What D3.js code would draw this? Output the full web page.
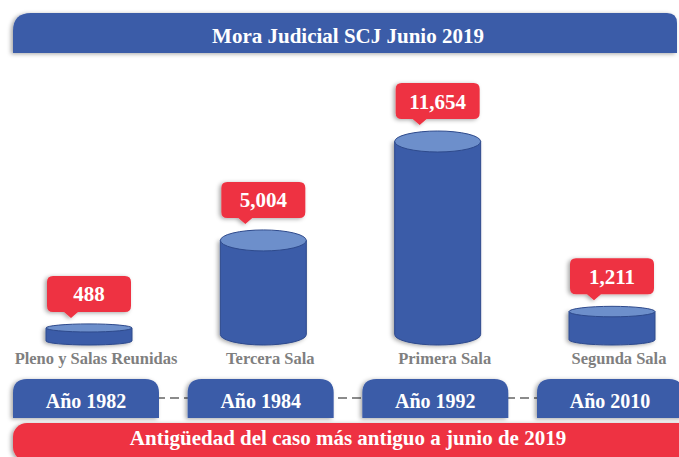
<!DOCTYPE html>
<html>
<head>
<meta charset="utf-8">
<script src="https://cdn.jsdelivr.net/npm/d3@7"></script>
<style>
  body { margin: 0; background: #fff; }
  svg { display: block; font-family: "Liberation Serif", "Times New Roman", serif; font-weight: bold; }
</style>
</head>
<body>
<div id="chart"></div>
<script>
var width = 679,
    height = 457

// data
var categories = ["Pleno y Salas Reunidas", "Tercera Sala", "Primera Sala", "Segunda Sala"]
var casos = [488, 5004, 11654, 1211]
var years = ["Año 1982", "Año 1984", "Año 1992", "Año 2010"]
var title = "Mora Judicial SCJ Junio 2019"
var footer = "Antigüedad del caso más antiguo a junio de 2019"

var blue = "#3a5ba8",
    red = "#ee3342"

var svg = d3.select("#chart")
  .append("svg")
    .attr("width", width)
    .attr("height", height)

// soft shadow
var defs = svg.append("defs")
defs.append("filter").attr("id", "shadow")
    .attr("x", "-20%").attr("y", "-30%").attr("width", "140%").attr("height", "160%")
  .append("feDropShadow")
    .attr("dx", -2).attr("dy", 1).attr("stdDeviation", 2)
    .attr("flood-color", "#000").attr("flood-opacity", 0.35)

// path with rounded top corners only
function topRounded(x0, y0, x1, y1, rl, rr) {
  return "M" + x0 + "," + y1 +
    "V" + (y0 + rl) +
    "Q" + x0 + "," + y0 + " " + (x0 + rl) + "," + y0 +
    "H" + (x1 - rr) +
    "Q" + x1 + "," + y0 + " " + x1 + "," + (y0 + rr) +
    "V" + y1 + "Z"
}

// title bar
svg.append("path")
  .attr("d", topRounded(13, 13, 677, 53, 18, 10))
  .attr("fill", blue)
  .attr("filter", "url(#shadow)")
svg.append("text")
  .attr("x", 348).attr("y", 43)
  .attr("text-anchor", "middle")
  .attr("fill", "#fff")
  .style("font-size", "21px")
  .text(title)

// scales
var x = d3.scalePoint().domain(categories).range([89, 612])
var xBox = d3.scalePoint().domain(categories).range([86, 610])
var baseBottom = 345
var h = d3.scalePow().exponent(0.85).domain([0, d3.max(casos)]).range([0, 193])

var rx = 43
var data = categories.map(function(c, i) {
  var hh = h(casos[i])
  var ry = Math.min(10.5, 3 + hh * 0.08)
  var yb = baseBottom - ry
  return {cat: c, value: casos[i], year: years[i], cx: x(c), ry: ry, yb: yb, yt: yb - hh}
})

// cylinders
var cyl = svg.selectAll("g.cyl")
  .data(data)
  .enter()
  .append("g")
    .attr("class", "cyl")

cyl.append("path")
  .attr("d", function(d) {
    return "M" + (d.cx - rx) + "," + d.yt +
      "V" + d.yb +
      "A" + rx + "," + d.ry + " 0 0 0 " + (d.cx + rx) + "," + d.yb +
      "V" + d.yt + "Z"
  })
  .attr("fill", blue)
  .attr("stroke", "#2e4a8c")
  .attr("stroke-width", 1)
  .attr("filter", "url(#shadow)")

cyl.append("ellipse")
  .attr("cx", function(d) { return d.cx })
  .attr("cy", function(d) { return d.yt })
  .attr("rx", rx)
  .attr("ry", function(d) { return d.ry })
  .attr("fill", "#6d8fcb")
  .attr("stroke", "#2e4a8c")
  .attr("stroke-width", 1)

// value callouts
var cw = 84, ch = 36, cr = 6, gap = 12
cyl.append("path")
  .attr("d", function(d) {
    var b = d.yt - d.ry - gap, t = b - ch
    var l = d.cx - cw / 2, r = d.cx + cw / 2, px = d.cx - 18
    return "M" + (l + cr) + "," + t +
      "H" + (r - cr) + "Q" + r + "," + t + " " + r + "," + (t + cr) +
      "V" + (b - cr) + "Q" + r + "," + b + " " + (r - cr) + "," + b +
      "H" + (px + 7) + "L" + px + "," + (b + 6) + "L" + (px - 7) + "," + b +
      "H" + (l + cr) + "Q" + l + "," + b + " " + l + "," + (b - cr) +
      "V" + (t + cr) + "Q" + l + "," + t + " " + (l + cr) + "," + t + "Z"
  })
  .attr("fill", red)
  .attr("filter", "url(#shadow)")

cyl.append("text")
  .attr("x", function(d) { return d.cx })
  .attr("y", function(d) { return d.yt - d.ry - gap - ch / 2 + 7.5 })
  .attr("text-anchor", "middle")
  .attr("fill", "#fff")
  .style("font-size", "21px")
  .text(function(d) { return d3.format(",")(d.value) })

// category labels
cyl.append("text")
  .attr("x", function(d) { return d.cx + 7 })
  .attr("y", 364)
  .attr("text-anchor", "middle")
  .attr("fill", "#7f7f7f")
  .style("font-size", "16.5px")
  .text(function(d) { return d.cat })

// dashed connectors between year boxes
var bw = 146
svg.append("line")
  .attr("x1", xBox(categories[0])).attr("x2", xBox(categories[3]))
  .attr("y1", 398).attr("y2", 398)
  .attr("stroke", "#666")
  .attr("stroke-width", 1.5)
  .attr("stroke-dasharray", "9,5")

// year boxes
var yb = svg.selectAll("g.year")
  .data(data)
  .enter()
  .append("g")
    .attr("class", "year")

yb.append("path")
  .attr("d", function(d) {
    var c = xBox(d.cat)
    return topRounded(c - bw / 2, 379, c + bw / 2, 418, 14, 14)
  })
  .attr("fill", blue)
  .attr("filter", "url(#shadow)")

yb.append("text")
  .attr("x", function(d) { return xBox(d.cat) })
  .attr("y", 408)
  .attr("text-anchor", "middle")
  .attr("fill", "#fff")
  .style("font-size", "20px")
  .text(function(d) { return d.year })

// footer bar
svg.append("rect")
  .attr("x", 13).attr("y", 423)
  .attr("width", 680).attr("height", 38)
  .attr("rx", 14)
  .attr("fill", red)
  .attr("filter", "url(#shadow)")
svg.append("text")
  .attr("x", 348).attr("y", 445)
  .attr("text-anchor", "middle")
  .attr("fill", "#fff")
  .style("font-size", "21px")
  .text(footer)
</script>
</body>
</html>
